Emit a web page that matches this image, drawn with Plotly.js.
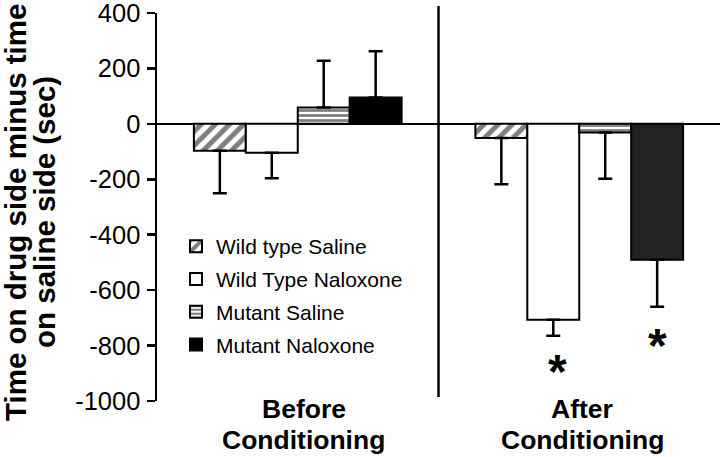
<!DOCTYPE html>
<html><head><meta charset="utf-8">
<script src="https://cdn.plot.ly/plotly-3.0.1.min.js"></script>
<style>html,body{margin:0;padding:0;background:#fff;} #chart{width:720px;height:457px;}</style>
</head><body><div id="chart"></div>
<script>
// ---- data ----
const categories = ["Before Conditioning", "After Conditioning"];
const categoryLines = [["Before", "Conditioning"], ["After", "Conditioning"]];
const seriesNames = ["Wild type Saline", "Wild Type Naloxone", "Mutant Saline", "Mutant Naloxone"];
const wtSaline = [-97, -51];
const wtSalineErr = [153, 167];
const wtNaloxone = [-104, -707];
const wtNaloxoneErr = [92, 58];
const mutSaline = [59, -31];
const mutSalineErr = [169, 167];
const mutNaloxone = [95, -490];
const mutNaloxoneErr = [167, 170];
const significant = [[false, false], [false, true], [false, false], [false, true]];
const yTickVals = [400, 200, 0, -200, -400, -600, -800, -1000];
const yTickText = ["400", "200", "0", "-200", "-400", "-600", "-800", "-1000"];
const yTitleLines = ["Time on drug side minus time", "on saline side (sec)"];

// ---- layout geometry ----
const W = 720, H = 457, ML = 157, MR = 0, MT = 13, MB = 56;
const PW = W - ML - MR, PH = H - MT - MB;
const BARGAP = 0.262;
const px2x = px => (px - ML) / PW;
const px2y = py => (H - MB - py) / PH;
const FONT = "Liberation Sans, Arial, Helvetica, sans-serif";

const values = [wtSaline, wtNaloxone, mutSaline, mutNaloxone];
const errs = [wtSalineErr, wtNaloxoneErr, mutSalineErr, mutNaloxoneErr];
const styles = [
  {color: "#ffffff", pattern: {shape: "/", fgcolor: "#000", bgcolor: "#fff", size: 10, solidity: 0.5, fillmode: "overlay"}},
  {color: "#ffffff"},
  {color: "#ffffff", pattern: {shape: "-", fgcolor: "#000", bgcolor: "#fff", size: 5, solidity: 0.55, fillmode: "overlay"}},
  {color: ["#000000", "#232323"]}
];

const traces = values.map((v, i) => ({
  type: "bar",
  name: seriesNames[i],
  x: categories,
  y: v,
  legendgroup: "g" + i,
  marker: Object.assign({line: {color: "#000", width: 2}}, styles[i]),
  error_y: {
    type: "data", symmetric: false, visible: true,
    array: v.map((val, j) => val >= 0 ? errs[i][j] : 0),
    arrayminus: v.map((val, j) => val < 0 ? errs[i][j] : 0),
    color: "#000", thickness: 2.5, width: 7
  },
  hoverinfo: "skip"
}));

const annotations = [];
// y-axis title, two lines
annotations.push({text: "<b>" + yTitleLines[0] + "</b>", xref: "paper", yref: "paper", x: px2x(16), y: px2y(213),
  textangle: -90, showarrow: false, xanchor: "center", yanchor: "middle", font: {family: FONT, size: 29.5, color: "#000"}});
annotations.push({text: "<b>" + yTitleLines[1] + "</b>", xref: "paper", yref: "paper", x: px2x(45), y: px2y(212),
  textangle: -90, showarrow: false, xanchor: "center", yanchor: "middle", font: {family: FONT, size: 29.5, color: "#000"}});
// category labels
categoryLines.forEach((lines, c) => {
  lines.forEach((ln, k) => {
    annotations.push({text: "<b>" + ln + "</b>", xref: "x", yref: "paper", x: c, xshift: c === 0 ? 6 : 3,
      y: px2y(k === 0 ? 408.5 : 439.5), showarrow: false, xanchor: "center", yanchor: "middle",
      font: {family: FONT, size: 26.5, color: "#000"}});
  });
});
// significance asterisks
const bw = (1 - BARGAP) / 4;
significant.forEach((sig, i) => {
  sig.forEach((s, j) => {
    if (!s) return;
    const v = values[i][j];
    const end = v < 0 ? v - errs[i][j] : v + errs[i][j];
    annotations.push({text: "<b>*</b>", xref: "x", yref: "y", x: j + (i - 1.5) * bw, y: end,
      xshift: i === 1 ? 4 : 0, yshift: i === 1 ? -36 : -39, showarrow: false, xanchor: "center", yanchor: "middle",
      font: {family: FONT, size: 48, color: "#000"}});
  });
});

const layout = {
  width: W, height: H,
  margin: {l: ML, r: MR, t: MT, b: MB, pad: 0},
  paper_bgcolor: "#fff", plot_bgcolor: "#fff",
  barmode: "group", bargap: BARGAP, bargroupgap: 0,
  showlegend: true,
  legend: {x: px2x(176), y: px2y(226), xanchor: "left", yanchor: "top", bgcolor: "rgba(0,0,0,0)",
    font: {family: FONT, size: 21, color: "#000"}, tracegroupgap: 2.5, traceorder: "grouped"},
  xaxis: {type: "category", range: [-0.5, 1.5], showline: false, showticklabels: false, ticks: "",
    showgrid: false, zeroline: false, fixedrange: true},
  yaxis: {range: [-1000, 400], tickvals: yTickVals, ticktext: yTickText, showline: true, linecolor: "#000",
    linewidth: 2.5, ticks: "outside", ticklen: 8, tickwidth: 2.5, tickcolor: "#000", showgrid: false,
    zeroline: true, zerolinecolor: "#000", zerolinewidth: 2, ticklabelstandoff: 1, ticklabeloverflow: "allow",
    tickfont: {family: FONT, size: 25.5, color: "#000"}, fixedrange: true},
  shapes: [{type: "line", xref: "x", yref: "paper", x0: 0.5, x1: 0.5, y0: 0.01, y1: px2y(6),
    line: {color: "#000", width: 2.5}}],
  annotations: annotations,
  font: {family: FONT, color: "#000"}
};

Plotly.newPlot("chart", traces, layout, {displayModeBar: false, staticPlot: true});
</script>
</body></html>
